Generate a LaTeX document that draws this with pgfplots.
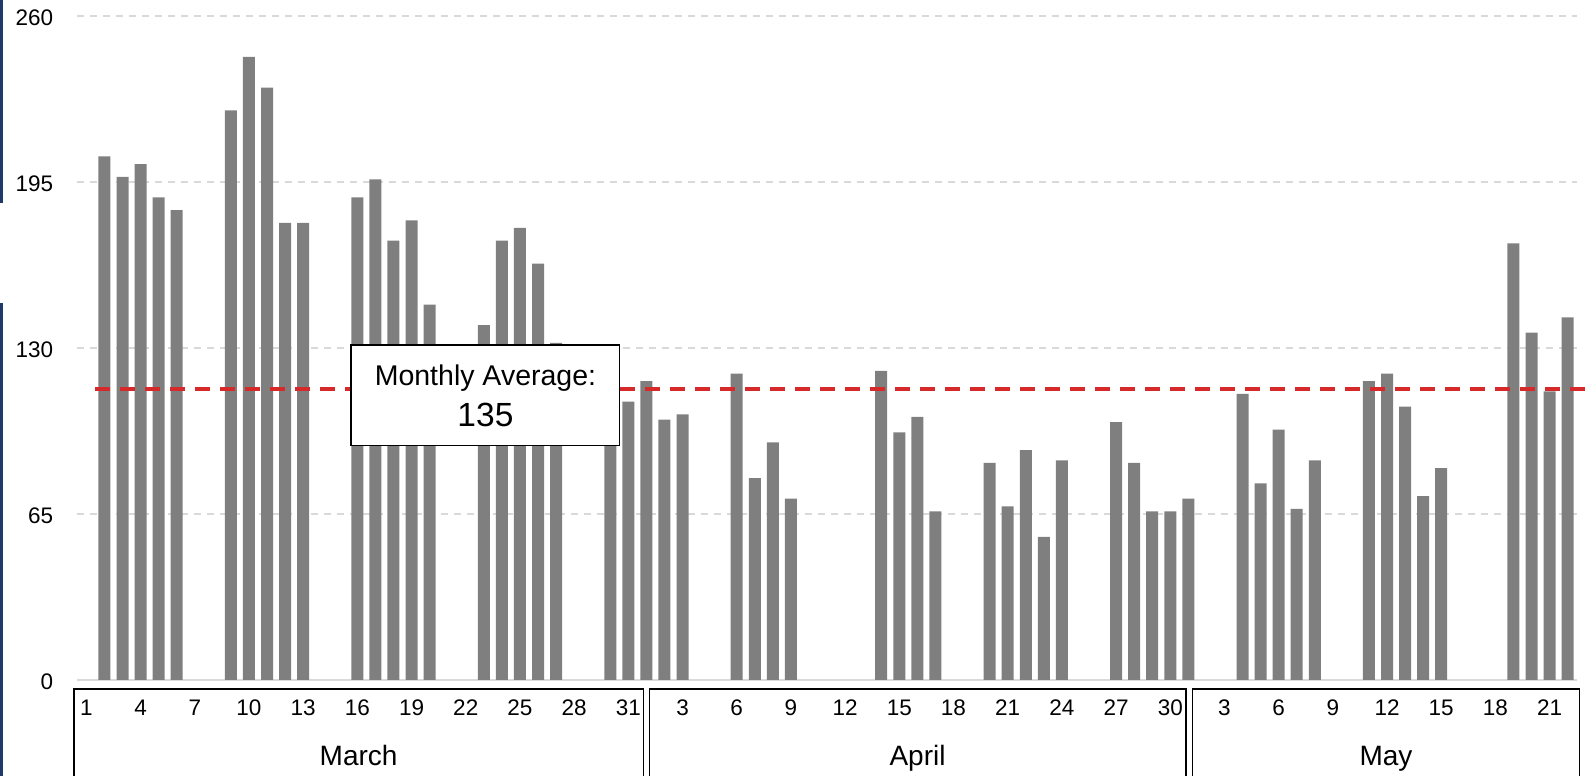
\documentclass[border=0pt]{standalone}
\usepackage{fontspec}
\setmainfont{Liberation Sans}
\usepackage{pgfplots}
\pgfplotsset{compat=1.18}
\usepackage{pgfplotstable}
\definecolor{bargray}{HTML}{7F7F7F}
\definecolor{avgred}{HTML}{D62A2A}
\definecolor{gridgray}{HTML}{D9D9D9}
\definecolor{navy}{HTML}{1F3A68}
\pgfplotstableread{
g v
2 205
3 197
4 202
5 189
6 184
9 223
10 244
11 232
12 179
13 179
16 189
17 196
18 172
19 180
20 147
23 139
24 172
25 177
26 163
27 132
30 112
31 109
32 117
33 102
34 104
37 120
38 79
39 93
40 71
45 121
46 97
47 103
48 66
51 85
52 68
53 90
54 56
55 86
58 101
59 85
60 66
61 66
62 71
65 112
66 77
67 98
68 67
69 86
72 117
73 120
74 107
75 72
76 83
80 171
81 136
82 113
83 142
}\daily
\begin{document}
\begin{tikzpicture}
\begin{axis}[
  at={(77.37bp,96bp)}, anchor=south west,
  width=1499.4bp, height=664bp, scale only axis,
  xmin=0.5, xmax=83.5, ymin=0, ymax=260,
  ytick={0,65,130,195,260},
  xtick={1,4,...,82},
  xticklabels={1,4,7,10,13,16,19,22,25,28,31,3,6,9,12,15,18,21,24,27,30,3,6,9,12,15,18,21},
  major tick length=0pt,
  axis x line*=bottom, axis y line*=left,
  x axis line style={draw=gridgray, line width=2bp, -},
  y axis line style={draw=none},
  ymajorgrids,
  grid style={draw=gridgray, line width=1.6bp, dash pattern=on 7bp off 6bp},
  xticklabel style={anchor=base, yshift=-36bp, inner sep=0pt, font=\fontsize{22.5bp}{26bp}\selectfont},
  yticklabel style={anchor=east, inner sep=0pt, xshift=-24bp, yshift=-1.5bp, font=\fontsize{22.5bp}{26bp}\selectfont},
  /pgf/number format/assume math mode=true,
  clip=false,
]
\addplot[ybar, bar width=12bp, fill=bargray, draw=none] table[x=g, y=v] {\daily};
\addplot[draw=avgred, line width=4bp, dash pattern=on 15bp off 10bp, forget plot] coordinates {(1.48,114) (84.3,114)};
% annotation box
\draw[fill=white, draw=black, line width=1.3bp] (axis cs:15.65,91.7) rectangle (axis cs:30.50,131.2);
\node[anchor=base, inner sep=0pt, font=\fontsize{28.5bp}{32bp}\selectfont] at (axis cs:23.09,115.5) {Monthly Average:};
\node[anchor=base, inner sep=0pt, font=\fontsize{33.5bp}{38bp}\selectfont] at (axis cs:23.09,99.2) {135};
% month boxes
\draw[line width=1.5bp] (axis cs:0.31,-45) -- (axis cs:0.31,-3.52) -- (axis cs:31.83,-3.52) -- (axis cs:31.83,-45);
\draw[line width=1.5bp] (axis cs:32.16,-45) -- (axis cs:32.16,-3.52) -- (axis cs:61.87,-3.52) -- (axis cs:61.87,-45);
\draw[line width=1.5bp] (axis cs:62.24,-45) -- (axis cs:62.24,-3.52) -- (axis cs:83.64,-3.52) -- (axis cs:83.64,-45);
\node[anchor=base, inner sep=0pt, font=\fontsize{28bp}{32bp}\selectfont] at (axis cs:16.07,-33.3) {March};
\node[anchor=base, inner sep=0pt, font=\fontsize{28bp}{32bp}\selectfont] at (axis cs:47.01,-33.3) {April};
\node[anchor=base, inner sep=0pt, font=\fontsize{28bp}{32bp}\selectfont] at (axis cs:72.94,-33.3) {May};
\end{axis}
\fill[navy] (0,0) rectangle (3bp,473bp);
\fill[navy] (0,573bp) rectangle (3bp,776bp);
\pgfresetboundingbox
\path[use as bounding box] (0,0) rectangle (1591bp,776bp);
\end{tikzpicture}
\end{document}
